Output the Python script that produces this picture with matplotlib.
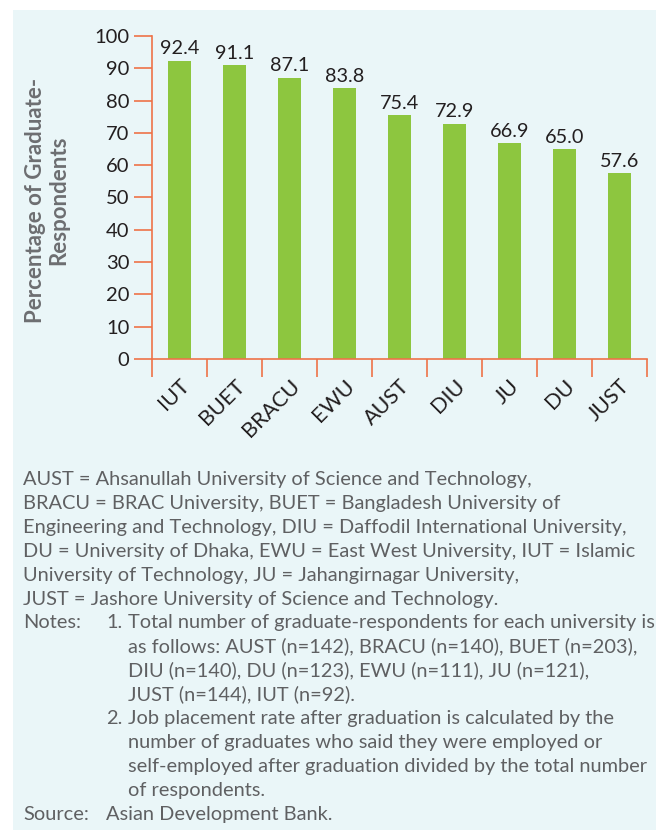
import matplotlib
matplotlib.use("Agg")
import matplotlib.pyplot as plt
from matplotlib.patches import Rectangle
import numpy as np

universities = ["IUT", "BUET", "BRACU", "EWU", "AUST", "DIU", "JU", "DU", "JUST"]
rates = [92.4, 91.1, 87.1, 83.8, 75.4, 72.9, 66.9, 65.0, 57.6]
y_ticks = [0, 10, 20, 30, 40, 50, 60, 70, 80, 90, 100]

ylabel_text = "Percentage of Graduate-\nRespondents"

FONT = "Lato"
ORANGE = "#EE7248"
GREEN = "#8DC63F"
DARK = "#231F20"
GRAY = "#5F6062"
BG = "#EAF6F8"

W, H = 656, 830
fig = plt.figure(figsize=(W / 100, H / 100), dpi=100, facecolor="white")
fig.patches.append(Rectangle((13 / W, 0), 1 - 13 / W, 1 - 10 / H, transform=fig.transFigure,
                             facecolor=BG, edgecolor="none", zorder=-10))

ax = fig.add_axes([151.7 / W, 1 - 359 / H, (647 - 151.7) / W, (359 - 36) / H])
ax.set_zorder(5)
ax.set_facecolor("none")
x = np.arange(len(universities))
ax.bar(x, rates, width=0.42, color=GREEN, zorder=2)
for xi, v in zip(x, rates):
    ax.text(xi, v + 1.0, f"{v:.1f}", ha="center", va="bottom", fontsize=14.3,
            color=DARK, family=FONT)

ax.set_xlim(-0.5, len(universities) - 0.5)
ax.set_ylim(0, 100)
ax.set_yticks(y_ticks)
ax.set_yticklabels([str(t) for t in y_ticks], fontsize=14.5, color=DARK, family=FONT)
ax.set_xticks(x)
ax.set_xticklabels(universities, rotation=45, ha="right", rotation_mode="anchor",
                   fontsize=15.5, color=DARK, family=FONT)
ax.set_xticks(np.arange(-0.5, len(universities)), minor=True)
ax.tick_params(axis="x", which="major", length=0, pad=12)
ax.tick_params(axis="x", which="minor", length=13, width=1.2, color=ORANGE, direction="out")
ax.tick_params(axis="y", length=13, width=1.2, color=ORANGE, direction="out", pad=3)
for s in ["top", "right"]:
    ax.spines[s].set_visible(False)
for s in ["left", "bottom"]:
    ax.spines[s].set_color(ORANGE)
    ax.spines[s].set_linewidth(1.2)

fig.text(47 / W, 1 - 200 / H, ylabel_text, rotation=90, ha="center", va="center",
         fontsize=16, fontweight="bold", color="#6D6E71", family=FONT,
         linespacing=1.15, multialignment="center")

# footnotes
lines = [
    (23, "AUST = Ahsanullah University of Science and Technology,"),
    (23, "BRACU = BRAC University, BUET = Bangladesh University of"),
    (23, "Engineering and Technology, DIU = Daffodil International University,"),
    (23, "DU = University of Dhaka, EWU = East West University, IUT = Islamic"),
    (23, "University of Technology, JU = Jahangirnagar University,"),
    (23, "JUST = Jashore University of Science and Technology."),
    (None, None),
    (128, "as follows: AUST (n=142), BRACU (n=140), BUET (n=203),"),
    (128, "DIU (n=140), DU (n=123), EWU (n=111), JU (n=121),"),
    (128, "JUST (n=144), IUT (n=92)."),
    (None, None),
    (128, "number of graduates who said they were employed or"),
    (128, "self-employed after graduation divided by the total number"),
    (128, "of respondents."),
    (None, None),
]
base0 = 485
step = 23.9
fs = 14.4
for i, (xx, t) in enumerate(lines):
    if t is None:
        continue
    fig.text(xx / W, 1 - (base0 + i * step) / H, t, ha="left", va="baseline",
             fontsize=fs, color=GRAY, family=FONT)
# Notes line
yb = base0 + 6 * step
fig.text(23 / W, 1 - yb / H, "Notes:", ha="left", va="baseline", fontsize=fs, color=GRAY, family=FONT)
fig.text(106 / W, 1 - yb / H, "1.", ha="left", va="baseline", fontsize=fs, color=GRAY, family=FONT)
fig.text(128 / W, 1 - yb / H, "Total number of graduate-respondents for each university is",
         ha="left", va="baseline", fontsize=fs, color=GRAY, family=FONT)
yb = base0 + 10 * step
fig.text(106 / W, 1 - yb / H, "2.", ha="left", va="baseline", fontsize=fs, color=GRAY, family=FONT)
fig.text(128 / W, 1 - yb / H, "Job placement rate after graduation is calculated by the",
         ha="left", va="baseline", fontsize=fs, color=GRAY, family=FONT)
yb = base0 + 14 * step
fig.text(23 / W, 1 - yb / H, "Source:", ha="left", va="baseline", fontsize=fs, color=GRAY, family=FONT)
fig.text(106 / W, 1 - yb / H, "Asian Development Bank.", ha="left", va="baseline",
         fontsize=fs, color=GRAY, family=FONT)

fig.savefig("out.png", dpi=100, facecolor="white")
